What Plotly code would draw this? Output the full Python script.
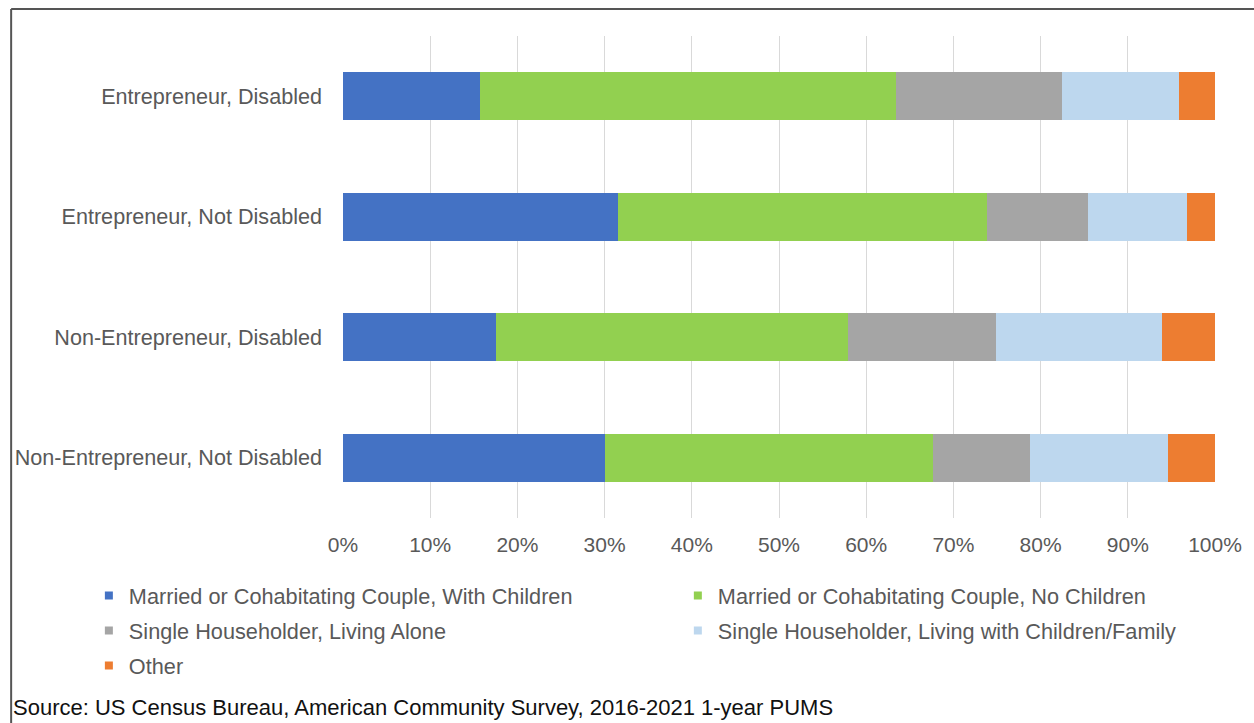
import plotly.graph_objects as go

# Household composition shares (%) by entrepreneurship / disability status
categories = [
    "Non-Entrepreneur, Not Disabled",
    "Non-Entrepreneur, Disabled",
    "Entrepreneur, Not Disabled",
    "Entrepreneur, Disabled",
]
married_with_children = [30.0, 17.6, 31.5, 15.7]
married_no_children = [37.7, 40.3, 42.4, 47.7]
single_alone = [11.1, 17.0, 11.5, 19.1]
single_with_family = [15.8, 19.0, 11.4, 13.4]
other = [5.4, 6.1, 3.2, 4.1]

series = [
    ("Married or Cohabitating Couple, With Children", married_with_children, "#4472C4"),
    ("Married or Cohabitating Couple, No Children", married_no_children, "#92D050"),
    ("Single Householder, Living Alone", single_alone, "#A5A5A5"),
    ("Single Householder, Living with Children/Family", single_with_family, "#BDD7EE"),
    ("Other", other, "#ED7D31"),
]
# one legend box per entry, laid out as a two-column grid
legend_ids = ["legend", "legend2", "legend3", "legend4", "legend5"]

x_ticks = list(range(0, 101, 10))
x_tick_labels = [f"{v}%" for v in x_ticks]

FONT = "Liberation Sans, Arial, sans-serif"
TEXT = "#595959"

W, H = 1254, 723
L, R, T, B = 343, 36, 36, 205
pw, ph = W - L - R, H - T - B


def px_x(px):
    return (px - L) / pw


def px_y(py):
    return (H - B - py) / ph


fig = go.Figure()
for name, vals, color in series:
    fig.add_trace(go.Bar(
        y=categories, x=vals, name=name, orientation="h",
        marker=dict(color=color, line=dict(width=0)),
        width=0.4, showlegend=False,
    ))

# small square legend keys
for (name, vals, color), lg in zip(series, legend_ids):
    fig.add_trace(go.Scatter(
        x=[None], y=[None], mode="markers", name=name, legend=lg,
        marker=dict(symbol="square", size=8, color=color),
        hoverinfo="skip",
    ))

legend_common = dict(
    orientation="h", xanchor="left", yanchor="middle",
    font=dict(family=FONT, size=21.7, color=TEXT),
    itemclick=False, itemdoubleclick=False, bgcolor="rgba(0,0,0,0)",
)
COL1, COL2 = px_x(128 - 40), px_x(719 - 40)
ROW1, ROW2, ROW3 = px_y(596), px_y(631), px_y(666)

fig.update_layout(
    width=W, height=H,
    margin=dict(l=L, r=R, t=T, b=B, pad=0),
    barmode="stack",
    paper_bgcolor="white",
    plot_bgcolor="white",
    font=dict(family=FONT, size=22, color=TEXT),
    showlegend=True,
    legend=dict(x=COL1, y=ROW1, **legend_common),
    legend2=dict(x=COL2, y=ROW1, **legend_common),
    legend3=dict(x=COL1, y=ROW2, **legend_common),
    legend4=dict(x=COL2, y=ROW2, **legend_common),
    legend5=dict(x=COL1, y=ROW3, **legend_common),
    xaxis=dict(
        range=[0, 100],
        tickvals=x_ticks, ticktext=x_tick_labels,
        showgrid=True, gridcolor="#D9D9D9", gridwidth=1,
        zeroline=False, showline=False, ticks="",
        ticklabelstandoff=12,
        tickfont=dict(family=FONT, size=21, color=TEXT),
        fixedrange=True,
    ),
    yaxis=dict(
        showgrid=False, zeroline=False, showline=False, ticks="",
        ticklabelstandoff=20,
        tickfont=dict(family=FONT, size=21.6, color=TEXT),
        fixedrange=True,
    ),
    shapes=[
        # outer frame (top and left edges)
        dict(type="line", xref="paper", yref="paper",
             x0=px_x(10), x1=px_x(1260), y0=px_y(9), y1=px_y(9),
             line=dict(color="#555555", width=2)),
        dict(type="line", xref="paper", yref="paper",
             x0=px_x(10), x1=px_x(10), y0=px_y(9), y1=px_y(730),
             line=dict(color="#555555", width=2)),
    ],
    annotations=[
        dict(text="Source: US Census Bureau, American Community Survey, 2016-2021 1-year PUMS",
             xref="paper", yref="paper", x=px_x(10), y=px_y(707),
             xanchor="left", yanchor="middle", showarrow=False,
             font=dict(family=FONT, size=22, color="#111111")),
    ],
)

fig.write_html("out.html")
